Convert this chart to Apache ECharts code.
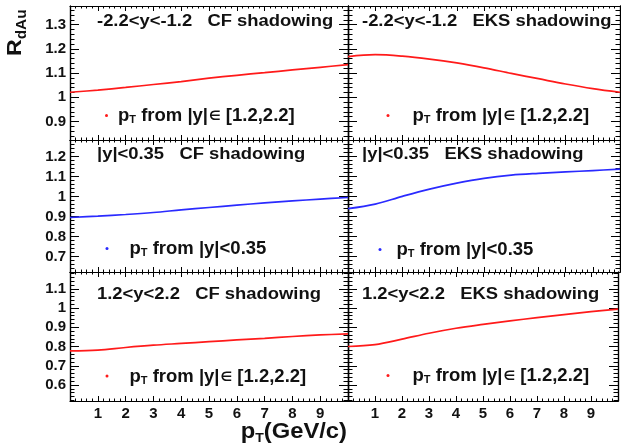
<!DOCTYPE html>
<html><head><meta charset="utf-8">
<script src="https://cdn.jsdelivr.net/npm/echarts@6/dist/echarts.min.js"></script>
<style>html,body{margin:0;padding:0;background:#fff}#c{width:621px;height:445px}</style>
</head><body><div id="c"></div>
<script>
// ---- data ----
const pT = [0, 1, 2, 3, 4, 5, 6, 7, 8, 9, 10];
const cfBackward  = [1.021, 1.030, 1.041, 1.053, 1.065, 1.079, 1.091, 1.102, 1.113, 1.124, 1.135];
const eksBackward = [1.168, 1.176, 1.170, 1.158, 1.142, 1.122, 1.099, 1.077, 1.055, 1.036, 1.021];
const cfMid       = [0.895, 0.902, 0.910, 0.920, 0.933, 0.945, 0.957, 0.968, 0.978, 0.987, 0.995];
const eksMid      = [0.939, 0.962, 1.001, 1.037, 1.067, 1.091, 1.107, 1.116, 1.123, 1.130, 1.137];
const cfForward   = [0.777, 0.781, 0.795, 0.807, 0.816, 0.825, 0.834, 0.842, 0.852, 0.860, 0.866];
const eksForward  = [0.800, 0.810, 0.838, 0.869, 0.895, 0.915, 0.933, 0.950, 0.966, 0.981, 0.994];
const xTickLabels = ['1', '2', '3', '4', '5', '6', '7', '8', '9'];
const yTicksTop = [0.9, 1.0, 1.1, 1.2, 1.3];
const yTicksMid = [0.7, 0.8, 0.9, 1.0, 1.1, 1.2];
const yTicksBot = [0.6, 0.7, 0.8, 0.9, 1.0, 1.1];
const panelTitles = [
  '-2.2<y<-1.2   CF shadowing', '-2.2<y<-1.2   EKS shadowing',
  '|y|<0.35   CF shadowing', '|y|<0.35   EKS shadowing',
  '1.2<y<2.2   CF shadowing', '1.2<y<2.2   EKS shadowing'
];
// legend text pieces: [before symbol, symbol, after symbol]
const legendTexts = [
  [' from |y|', '\u2208', ' [1.2,2.2]'], [' from |y|', '\u2208', ' [1.2,2.2]'],
  [' from |y|<0.35', '', ''], [' from |y|<0.35', '', ''],
  [' from |y|', '\u2208', ' [1.2,2.2]'], [' from |y|', '\u2208', ' [1.2,2.2]']
];
const seriesData = [cfBackward, eksBackward, cfMid, eksMid, cfForward, eksForward];
const seriesNames = ['CF backward', 'EKS backward', 'CF mid', 'EKS mid', 'CF forward', 'EKS forward'];
const seriesColors = ['#ff1a1a', '#ff1a1a', '#2a2aff', '#2a2aff', '#ff1a1a', '#ff1a1a'];

// ---- layout ----
const FONT = '"Liberation Sans", Arial, Helvetica, sans-serif';
const rows = [
  {top: 6, height: 134, min: 0.824, max: 1.377, ticks: yTicksTop},
  {top: 140, height: 132, min: 0.622, max: 1.283, ticks: yTicksMid},
  {top: 272, height: 129, min: 0.517, max: 1.187, ticks: yTicksBot}
];
const cols = [{left: 70, width: 278}, {left: 348, width: 272}];
rows.forEach(r => {
  r.minors = [];
  for (let k = Math.ceil(r.min / 0.02); k * 0.02 <= r.max; k++) {
    const v = Math.round(k * 2) / 100;
    if (Math.abs(v * 10 - Math.round(v * 10)) > 1e-6) r.minors.push(v);
  }
});
const titlePos = [[97, 22], [362, 22], [97, 155], [362, 155], [97, 295], [362, 295]];
const legendPos = [[105, 117.5], [386.5, 117.5], [105.5, 250.5], [378.5, 251.5], [105.5, 378], [386.5, 377.5]];
const legendGap = [5, 18, 16, 10, 16, 18];

const lineCol = '#000';
const grids = [], xAxes = [], yAxes = [], series = [], legends = [], graphics = [];

function xAx(g, pos, labels) {
  return {
    type: 'value', gridIndex: g, position: pos, min: 0, max: 10, interval: 1,
    axisLine: {show: true, onZero: false, lineStyle: {color: lineCol, width: 1.2}},
    axisTick: {show: true, inside: true, length: 5, lineStyle: {color: lineCol, width: 1}},
    minorTick: {show: true, splitNumber: 5, length: 2.5, lineStyle: {color: lineCol, width: 1}},
    axisLabel: {show: labels, margin: 5, fontSize: 15, fontWeight: 'bold', color: '#111', fontFamily: FONT,
      formatter: v => (xTickLabels.indexOf(String(v)) >= 0 ? String(v) : '')},
    splitLine: {show: false}, minorSplitLine: {show: false}
  };
}
function yAx(g, pos, row, major, labels) {
  const vals = major ? row.ticks : row.minors;
  return {
    type: 'value', gridIndex: g, position: pos, min: row.min, max: row.max,
    axisLine: {show: true, onZero: false, lineStyle: {color: lineCol, width: 1.2}},
    axisTick: {show: true, inside: true, length: major ? 9 : 4.5, customValues: vals, lineStyle: {color: lineCol, width: 1}},
    axisLabel: {show: labels, customValues: vals, margin: 4, fontSize: 15, fontWeight: 'bold', color: '#111', fontFamily: FONT,
      formatter: v => String(Number(v.toFixed(2)))},
    splitLine: {show: false}
  };
}

const LF = 18.5;
let g = 0;
rows.forEach((r, ri) => {
  cols.forEach((c, ci) => {
    grids.push({left: c.left, width: c.width, top: r.top, height: r.height, containLabel: false});
    const xi = xAxes.length;
    xAxes.push(xAx(g, 'bottom', ri === 2));
    xAxes.push(xAx(g, 'top', false));
    const yi = yAxes.length;
    yAxes.push(yAx(g, 'left', r, true, ci === 0));
    yAxes.push(yAx(g, 'left', r, false, false));
    yAxes.push(yAx(g, 'right', r, true, false));
    yAxes.push(yAx(g, 'right', r, false, false));
    const vals = seriesData[g];
    series.push({
      name: seriesNames[g], type: 'line', xAxisIndex: xi, yAxisIndex: yi,
      data: pT.map((x, i) => [x, vals[i]]),
      smooth: 0.35, showSymbol: false, symbol: 'circle', symbolSize: 3,
      itemStyle: {color: seriesColors[g]},
      lineStyle: {color: seriesColors[g], width: 1.7},
      silent: true, animation: false
    });
    const lp = legendPos[g];
    const lt = legendTexts[g];
    legends.push({
      data: [seriesNames[g]], left: lp[0], top: lp[1] - 11, icon: 'circle', itemWidth: 3, itemHeight: 3,
      selectedMode: false, padding: 0,
      formatter: () => '{p|p}{s|T}{t|' + lt[0] + '}' + (lt[1] ? '{e|' + lt[1] + '}{t|' + lt[2] + '}' : ''),
      textStyle: {
        fontFamily: FONT, fontWeight: 'bold', color: '#111',
        rich: {
          p: {fontSize: LF, fontWeight: 'bold', fontFamily: FONT, color: '#111', lineHeight: 18, verticalAlign: 'top', padding: [0, 0, 0, legendGap[g]]},
          s: {fontSize: 11, fontWeight: 'bold', fontFamily: FONT, color: '#111', lineHeight: 12, verticalAlign: 'top', padding: [8, 0, 0, 0]},
          t: {fontSize: LF, fontWeight: 'bold', fontFamily: FONT, color: '#111', lineHeight: 18, verticalAlign: 'top'},
          e: {fontSize: 13, fontWeight: 'bold', fontFamily: '"DejaVu Sans", ' + FONT, color: '#111', lineHeight: 14, verticalAlign: 'top', padding: [4, 0, 0, 1]}
        }
      }
    });
    const tp = titlePos[g];
    graphics.push({
      type: 'text', x: tp[0], y: tp[1], scaleX: 1.15, silent: true,
      style: {text: panelTitles[g], font: 'bold 16px ' + FONT, fill: '#111', align: 'left', verticalAlign: 'middle'}
    });
    g++;
  });
});

// axis titles
graphics.push({
  type: 'text', x: 347, y: 432, scaleX: 1.08, silent: true,
  style: {
    text: '{p|p}{s|T}{t|(GeV/c)}', align: 'right', verticalAlign: 'middle',
    rich: {
      p: {font: 'bold 22px ' + FONT, fill: '#111', lineHeight: 22, verticalAlign: 'top'},
      s: {font: 'bold 13px ' + FONT, fill: '#111', lineHeight: 14, verticalAlign: 'top', padding: [11, 0, 0, 0]},
      t: {font: 'bold 22px ' + FONT, fill: '#111', lineHeight: 22, verticalAlign: 'top'}
    }
  }
});
graphics.push({
  type: 'text', x: 15, y: 56, rotation: Math.PI / 2, scaleX: 1.1, silent: true,
  style: {
    text: '{r|R}{s|dAu}', align: 'left', verticalAlign: 'middle',
    rich: {
      r: {font: 'bold 21px ' + FONT, fill: '#111', lineHeight: 20, verticalAlign: 'top'},
      s: {font: 'bold 14px ' + FONT, fill: '#111', lineHeight: 14, verticalAlign: 'top', padding: [10, 0, 0, 0]}
    }
  }
});

const chart = echarts.init(document.getElementById('c'), null, {renderer: 'canvas'});
chart.setOption({
  backgroundColor: '#fff',
  animation: false,
  grid: grids, xAxis: xAxes, yAxis: yAxes, series: series, legend: legends,
  graphic: {elements: graphics}
});
</script></body></html>
